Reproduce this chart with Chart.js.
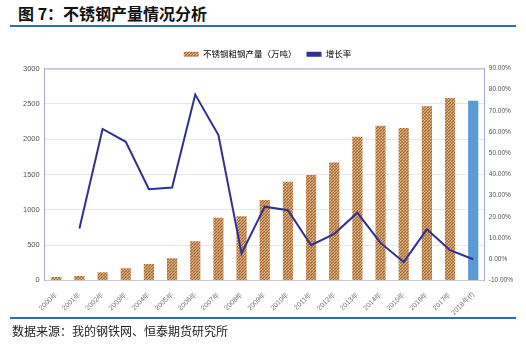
<!DOCTYPE html>
<html>
<head>
<meta charset="utf-8">
<script src="https://cdn.jsdelivr.net/npm/chart.js@4.4.0/dist/chart.umd.min.js"></script>
<style>
  html, body { margin: 0; padding: 0; background: #fff; }
  body { width: 526px; height: 344px; position: relative; overflow: hidden;
         font-family: "Noto Sans CJK SC", "Noto Sans", sans-serif; }
  #title { position: absolute; left: 18px; top: 2px; font-size: 16px; line-height: 22px; font-weight: bold; color: #111; }
  .rule { position: absolute; left: 10px; width: 506px; height: 2px; background: #2e6db4; }
  #source { position: absolute; left: 12px; top: 323px; font-size: 12px; line-height: 16px; color: #222; }
  #wrap { position: absolute; left: 0; top: 36px; width: 526px; height: 287px; }
</style>
</head>
<body>
<div id="title">图 7：不锈钢产量情况分析</div>
<div class="rule" style="top:25px"></div>
<div id="wrap"><canvas id="c" width="526" height="287"></canvas></div>
<div class="rule" style="top:317px"></div>
<div id="source">数据来源：我的钢铁网、恒泰期货研究所</div>
<script>
// ── Data ────────────────────────────────────────────────────────────────────
const YEARS = ['2000年','2001年','2002年','2003年','2004年','2005年','2006年','2007年','2008年','2009年',
               '2010年','2011年','2012年','2013年','2014年','2015年','2016年','2017年','2018年(f)'];
const OUTPUT = [50, 62, 114, 171, 232, 313, 555, 886, 910, 1138,
                1398, 1493, 1668, 2033, 2190, 2157, 2464, 2583, 2545];   // 万吨
const GROWTH = [null, 14.5, 61.5, 55.4, 33.0, 33.8, 77.7, 58.6, 2.7, 24.8,
                23.1, 6.6, 12.0, 21.9, 7.7, -1.3, 14.1, 4.3, 0.0];        // %
const LEFT_TICKS  = [0, 3000, 500];
const RIGHT_TICKS = [-10, 90, 10];

// ── Bar texture (woven look) ────────────────────────────────────────────────
function weave(base, dark, light) {
  const p = document.createElement('canvas');
  p.width = 3; p.height = 3;
  const g = p.getContext('2d');
  g.fillStyle = base; g.fillRect(0, 0, 3, 3);
  g.fillStyle = dark; g.fillRect(0, 0, 1, 1); g.fillRect(2, 1, 1, 1); g.fillRect(1, 2, 1, 1);
  g.fillStyle = light; g.fillRect(1, 0, 1, 1); g.fillRect(0, 2, 1, 1);
  return document.getElementById('c').getContext('2d').createPattern(p, 'repeat');
}
const brown = weave('#c9935c', '#a26a38', '#e0b88c');
const barColors = OUTPUT.map((_, i) => i === OUTPUT.length - 1 ? '#5b9bd5' : brown);

// top border of the plot box
const frame = {
  id: 'frame',
  afterDraw(chart) {
    const a = chart.chartArea, ctx = chart.ctx;
    ctx.save();
    ctx.strokeStyle = '#a6a6d2';
    ctx.lineWidth = 1;
    ctx.beginPath();
    ctx.moveTo(a.left, a.top + 0.5);
    ctx.lineTo(a.right, a.top + 0.5);
    ctx.stroke();
    ctx.restore();
  }
};

new Chart(document.getElementById('c'), {
  data: {
    labels: YEARS,
    datasets: [
      { type: 'line', label: '增长率', data: GROWTH, yAxisID: 'y2',
        borderColor: '#2e3192', backgroundColor: '#2e3192', borderWidth: 2,
        pointRadius: 0, tension: 0, spanGaps: false, order: 0 },
      { type: 'bar', label: '不锈钢粗钢产量（万吨）', data: OUTPUT, yAxisID: 'y',
        backgroundColor: barColors, borderWidth: 0,
        barPercentage: 0.44, categoryPercentage: 1, order: 1 },
    ],
  },
  options: {
    responsive: false,
    animation: false,
    devicePixelRatio: 1,
    layout: { padding: { left: 18, right: 9, top: 4, bottom: 4 } },
    plugins: {
      legend: {
        position: 'top',
        align: 'center',
        labels: {
          boxWidth: 15, boxHeight: 5, padding: 10,
          font: { size: 8.5, family: '"Noto Sans CJK SC", sans-serif' }, color: '#555',
          generateLabels(chart) {
            return [
              { text: '不锈钢粗钢产量（万吨）', fillStyle: brown, strokeStyle: brown, lineWidth: 0, datasetIndex: 1 },
              { text: '增长率', fillStyle: '#2e3192', strokeStyle: '#2e3192', lineWidth: 0, datasetIndex: 0 },
            ];
          },
        },
      },
      tooltip: { enabled: false },
    },
    scales: {
      x: {
        grid: { display: false },
        border: { color: '#c8c8d8' },
        ticks: { minRotation: 45, maxRotation: 45, autoSkip: false, color: '#777', font: { size: 7 }, padding: 2 },
      },
      y: {
        position: 'left',
        min: LEFT_TICKS[0], max: LEFT_TICKS[1],
        ticks: { stepSize: LEFT_TICKS[2], color: '#555', font: { size: 7.5 }, padding: 5,
                 callback: v => String(v) },
        grid: { color: '#e8e8e8', drawTicks: false },
        border: { color: '#a6a6d2', width: 1 },
      },
      y2: {
        position: 'right',
        min: RIGHT_TICKS[0], max: RIGHT_TICKS[1],
        ticks: { stepSize: RIGHT_TICKS[2], color: '#555', font: { size: 6.5 }, padding: 4,
                 callback: v => v.toFixed(2) + '%' },
        grid: { display: false, drawTicks: false },
        border: { color: '#a6a6d2', width: 1 },
      },
    },
  },
  plugins: [frame],
});
</script>
</body>
</html>
